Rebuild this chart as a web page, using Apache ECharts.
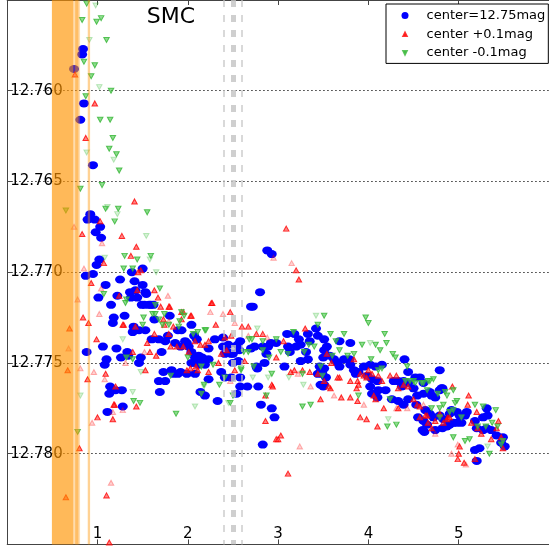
<!DOCTYPE html>
<html>
<head>
<meta charset="utf-8">
<script src="https://cdn.jsdelivr.net/npm/echarts@6/dist/echarts.min.js"></script>
<style>
  html, body { margin: 0; padding: 0; background: #fff; }
  #chart { width: 549px; height: 551px; }
</style>
</head>
<body>
<div id="chart"></div>
<script>
// Tick labels shown on the axes
const xTickLabels = ['1', '2', '3', '4', '5'];
const yTickLabels = ['12.760', '12.765', '12.770', '12.775', '12.780'];

// Series names
const seriesNames = ['center=12.75mag', 'center +0.1mag', 'center -0.1mag'];

// center = 12.75 mag  [x, magnitude]
const blueCenter = [
  [0.84,12.7577],[0.83,12.7580],[0.74,12.7588],[0.85,12.7607],[0.81,12.7616],[0.95,12.7641],
  [0.92,12.7668],[0.89,12.7671],[0.97,12.7671],[1.03,12.7675],[0.98,12.7678],[1.04,12.7681],
  [1.02,12.7693],[0.99,12.7696],[0.87,12.7702],[0.95,12.7701],[1.50,12.7698],[1.38,12.7700],
  [1.25,12.7704],[1.41,12.7705],[2.88,12.7688],[2.93,12.7690],
  [1.09,12.7707],[1.01,12.7714],[1.22,12.7713],[1.15,12.7718],[1.36,12.7711],[1.42,12.7710],
  [1.37,12.7714],[1.44,12.7714],[1.50,12.7707],[1.54,12.7712],[1.52,12.7718],[1.59,12.7718],
  [1.30,12.7724],[1.18,12.7725],[1.17,12.7728],[1.80,12.7724],[1.63,12.7726],[2.04,12.7729],
  [1.40,12.7730],[1.39,12.7733],[1.46,12.7732],[1.53,12.7732],[1.60,12.7737],[1.68,12.7737],
  [1.75,12.7738],[1.78,12.7735],[1.89,12.7732],[1.93,12.7732],[1.97,12.7738],[2.10,12.7737],
  [1.21,12.7742],[1.06,12.7741],[0.88,12.7744],[1.71,12.7744],[1.33,12.7744],[1.26,12.7747],
  [1.48,12.7747],[1.10,12.7748],[1.08,12.7751],[1.86,12.7739],[1.92,12.7741],[1.99,12.7739],
  [2.04,12.7744],[2.08,12.7747],[2.16,12.7747],[2.16,12.7750],[2.23,12.7742],[2.30,12.7737],
  [2.39,12.7736],[2.44,12.7744],[2.50,12.7745],[2.55,12.7740],[2.58,12.7738],[1.73,12.7755],
  [1.82,12.7754],[1.89,12.7756],[1.68,12.7760],[1.75,12.7760],[1.69,12.7766],[1.14,12.7763],
  [1.13,12.7767],[1.20,12.7765],[1.27,12.7765],[1.28,12.7774],[1.11,12.7777],[2.14,12.7766],
  [2.19,12.7768],[2.33,12.7771],[2.54,12.7767],[2.58,12.7763],[2.66,12.7763],[2.78,12.7763],
  [2.77,12.7753],[2.81,12.7773],[2.93,12.7775],[2.96,12.7780],[2.83,12.7795],[2.80,12.7711],
  [2.70,12.7719],[2.72,12.7719],[2.92,12.7739],[2.70,12.7742],[2.74,12.7741],[2.83,12.7741],
  [2.87,12.7745],[2.76,12.7752],[2.85,12.7750],
  [3.10,12.7734],[3.18,12.7734],[3.23,12.7737],[3.33,12.7734],[3.35,12.7738],[3.42,12.7731],
  [3.44,12.7735],[3.51,12.7737],[3.25,12.7740],[3.20,12.7741],[3.11,12.7741],[3.13,12.7744],
  [3.31,12.7744],[3.33,12.7748],[3.25,12.7749],[3.51,12.7743],[3.50,12.7747],[3.46,12.7752],
  [3.49,12.7756],[3.51,12.7762],[3.07,12.7752],[2.48,12.7745],[2.45,12.7740],[2.39,12.7741],
  [2.41,12.7745],[2.57,12.7743],[2.50,12.7750],[2.56,12.7749],[2.37,12.7755],[2.41,12.7758],
  [2.48,12.7758],[2.58,12.7758],[2.23,12.7748],[2.19,12.7751],[2.12,12.7746],[2.08,12.7750],
  [2.04,12.7750],[2.23,12.7759],[3.51,12.7753],[2.89,12.7741],[2.98,12.7739],
  [3.54,12.7741],[3.68,12.7738],[3.80,12.7739],[3.57,12.7746],[3.62,12.7748],[3.66,12.7750],
  [3.68,12.7752],[3.73,12.7748],[3.79,12.7748],[3.80,12.7751],[3.84,12.7754],[3.86,12.7756],
  [3.89,12.7755],[3.95,12.7752],[4.02,12.7751],[4.08,12.7752],[4.15,12.7751],[3.99,12.7757],
  [4.04,12.7759],[4.10,12.7760],[4.02,12.7763],[4.11,12.7765],[4.19,12.7765],[4.28,12.7760],
  [4.33,12.7760],[4.39,12.7760],[4.44,12.7761],[4.37,12.7763],[4.50,12.7764],[4.40,12.7748],
  [4.04,12.7767],[4.10,12.7769],[4.26,12.7770],[4.33,12.7771],[4.44,12.7770],[4.39,12.7773],
  [4.54,12.7768],[4.61,12.7767],[4.68,12.7766],[4.70,12.7768],[4.81,12.7764],[4.79,12.7754],
  [4.55,12.7780],[4.61,12.7782],[4.65,12.7784],[4.62,12.7788],[4.72,12.7780],[4.83,12.7781],
  [4.90,12.7778],[4.94,12.7783],[3.47,12.7762],[3.50,12.7763],[3.53,12.7758],[3.44,12.7756],
  [4.44,12.7755],[4.52,12.7758],[4.57,12.7758],[4.61,12.7761],[4.74,12.7769],[4.79,12.7765],
  [4.82,12.7764],[4.53,12.7773],[4.63,12.7776],[4.68,12.7778],[4.79,12.7779],[4.60,12.7787],
  [4.74,12.7787],[4.82,12.7786],[4.87,12.7785],[4.90,12.7784],[4.98,12.7783],[5.03,12.7783],
  [4.92,12.7776],[4.98,12.7777],[5.01,12.7779],[5.07,12.7779],[5.09,12.7777],[5.27,12.7780],
  [5.32,12.7779],[5.31,12.7775],[5.18,12.7782],[5.20,12.7786],[5.27,12.7787],[5.31,12.7786],
  [5.36,12.7787],[5.42,12.7790],[5.49,12.7791],[5.47,12.7794],[5.51,12.7796],[5.18,12.7798],
  [5.23,12.7797],[5.20,12.7804],
  [1.34,12.7746],[1.46,12.7750],[1.84,12.7756],[1.92,12.7755],[1.99,12.7756],[2.08,12.7756],
  [2.12,12.7751],[1.53,12.7711],[1.57,12.7718],[1.62,12.7718],[1.49,12.7718],[2.01,12.7741],
  [2.07,12.7735]
];

// center + 0.1 mag, full-weight points
const redPlus = [
  [0.75,12.7591],[0.97,12.7607],[0.87,12.7626],[1.41,12.7661],[0.83,12.7679],[1.03,12.7672],
  [1.27,12.7680],[1.43,12.7686],[1.37,12.7691],[1.07,12.7695],[1.48,12.7699],[1.45,12.7700],
  [3.09,12.7676],[3.20,12.7699],[3.23,12.7704],
  [0.93,12.7706],[0.84,12.7725],[0.90,12.7728],[0.69,12.7731],[0.67,12.7754],[0.89,12.7759],
  [0.99,12.7737],[1.09,12.7756],[1.20,12.7763],[1.19,12.7773],[1.43,12.7774],[1.00,12.7780],
  [0.80,12.7797],[1.10,12.7823],[0.65,12.7824],[1.13,12.7849],[1.24,12.7713],[1.29,12.7729],
  [1.44,12.7710],[1.67,12.7714],[1.39,12.7744],[1.58,12.7744],[1.80,12.7719],[1.93,12.7722],
  [2.03,12.7724],[2.26,12.7717],[2.47,12.7722],[2.60,12.7730],[2.67,12.7730],[2.31,12.7729],
  [2.76,12.7734],[2.83,12.7734],[2.93,12.7762],[2.86,12.7782],[2.98,12.7792],[2.23,12.7755],
  [2.11,12.7754],
  [2.27,12.7717],[2.04,12.7724],[3.06,12.7738],[3.30,12.7731],[2.98,12.7747],[3.14,12.7755],
  [3.18,12.7754],[3.27,12.7754],[3.35,12.7755],[3.44,12.7756],[2.94,12.7763],[2.86,12.7768],
  [3.47,12.7770],[2.52,12.7754],[2.63,12.7749],[2.19,12.7740],[2.23,12.7738],[2.14,12.7740],
  [2.08,12.7738],[2.37,12.7745],[2.43,12.7743],[2.34,12.7750],[2.48,12.7735],[2.41,12.7736],
  [3.84,12.7748],[3.91,12.7756],[3.95,12.7757],[3.98,12.7758],[4.00,12.7754],[4.04,12.7756],
  [4.11,12.7757],[4.15,12.7760],[3.88,12.7760],[3.89,12.7762],[3.87,12.7764],[4.24,12.7757],
  [4.31,12.7757],[4.39,12.7762],[4.44,12.7763],[4.33,12.7764],[4.50,12.7770],[4.54,12.7773],
  [3.70,12.7769],[3.80,12.7769],[3.88,12.7771],[4.06,12.7768],[4.08,12.7770],[4.17,12.7775],
  [4.33,12.7775],[3.91,12.7780],[3.98,12.7781],[4.10,12.7785],[4.57,12.7774],[4.65,12.7779],
  [4.74,12.7782],[4.83,12.7783],[4.88,12.7780],[4.93,12.7763],[3.51,12.7760],[3.58,12.7764],
  [3.54,12.7745],[3.59,12.7750],[3.68,12.7758],[3.80,12.7760],
  [5.11,12.7768],[5.10,12.7773],[5.20,12.7777],[5.44,12.7782],[4.57,12.7780],[4.63,12.7779],
  [4.66,12.7783],[4.79,12.7778],[4.87,12.7781],[4.90,12.7780],[5.14,12.7783],[5.21,12.7786],
  [5.25,12.7789],[5.36,12.7792],[5.42,12.7786],[5.49,12.7797],[5.47,12.7791],[5.01,12.7796],
  [5.00,12.7800],[4.99,12.7803],[5.06,12.7805],[5.18,12.7803],[4.70,12.7786],
  [1.18,12.7773],[1.17,12.7781],[1.53,12.7754],[1.28,12.7729],[1.42,12.7730],[1.55,12.7739],
  [1.65,12.7746],[1.81,12.7741],[1.88,12.7741],[1.95,12.7741],[2.01,12.7744],[1.63,12.7734],
  [1.79,12.7734],[1.84,12.7730],[1.74,12.7729],[1.99,12.7754],[2.03,12.7753],[2.09,12.7752],
  [1.63,12.7710],[1.73,12.7726],[1.79,12.7719],[1.70,12.7719],[1.93,12.7726],[1.95,12.7722],
  [3.11,12.7811],[3.03,12.7790],[3.00,12.7792],[3.56,12.7763],[3.66,12.7758]
];

// center + 0.1 mag, low-weight points
const redPlusWeak = [
  [0.74,12.7675],[1.05,12.7684],[0.85,12.7698],[2.95,12.7692],[3.15,12.7695],[0.78,12.7715],
  [0.68,12.7742],[0.81,12.7753],[0.96,12.7755],[1.02,12.7723],[1.08,12.7759],[1.04,12.7709],
  [1.17,12.7777],[1.28,12.7776],[0.94,12.7783],[1.15,12.7816],[1.31,12.7750],[1.52,12.7744],
  [1.78,12.7713],[1.79,12.7727],[2.25,12.7722],[2.39,12.7723],[2.67,12.7735],[2.88,12.7736],
  [3.62,12.7768],[3.95,12.7773],[4.43,12.7775],[4.92,12.7800],[3.24,12.7796],[4.31,12.7775],
  [4.61,12.7773],[4.74,12.7789],[4.99,12.7795],[5.08,12.7806],[3.36,12.7763],[3.22,12.7756],
  [2.47,12.7760],[2.52,12.7728]
];

// center - 0.1 mag, full-weight points
const greenMinus = [
  [0.88,12.7552],[0.83,12.7561],[0.99,12.7562],[1.04,12.7560],[1.10,12.7572],[0.85,12.7584],
  [0.97,12.7586],[0.93,12.7592],[1.15,12.7600],[0.87,12.7603],[1.03,12.7616],[1.14,12.7616],
  [1.17,12.7626],[1.13,12.7632],[1.21,12.7635],[1.24,12.7644],[1.05,12.7652],[0.81,12.7654],
  [1.09,12.7665],[1.23,12.7665],[1.55,12.7667],[0.65,12.7666],[1.19,12.7672],[1.30,12.7691],
  [1.59,12.7691],[1.44,12.7693],[1.29,12.7698],[1.39,12.7698],
  [1.07,12.7712],[1.32,12.7715],[1.31,12.7717],[1.69,12.7709],[1.64,12.7718],[1.61,12.7723],
  [1.51,12.7725],[1.50,12.7729],[1.72,12.7729],[1.91,12.7727],[2.06,12.7734],[2.11,12.7733],
  [2.19,12.7732],[1.39,12.7748],[1.32,12.7747],[1.40,12.7771],[1.47,12.7772],[1.87,12.7778],
  [1.81,12.7757],[2.50,12.7768],[2.35,12.7762],[2.41,12.7758],[2.59,12.7754],[2.87,12.7768],
  [2.93,12.7756],[0.78,12.7788],
  [2.20,12.7732],[2.68,12.7737],[2.71,12.7737],[2.83,12.7738],[2.98,12.7737],[3.17,12.7733],
  [3.34,12.7740],[3.40,12.7741],[3.29,12.7744],[3.03,12.7744],[3.11,12.7745],[2.90,12.7747],
  [2.67,12.7744],[2.62,12.7744],[3.27,12.7756],[3.27,12.7774],[3.36,12.7773],[2.47,12.7772],
  [2.18,12.7762],[2.15,12.7767],[2.28,12.7751],[2.15,12.7752],[2.59,12.7753],[2.73,12.7752],
  [2.83,12.7743],[3.51,12.7724],
  [3.44,12.7729],[3.97,12.7725],[4.00,12.7728],[3.58,12.7734],[3.64,12.7738],[3.73,12.7734],
  [3.93,12.7740],[4.08,12.7740],[4.13,12.7743],[4.20,12.7739],[4.18,12.7734],[4.27,12.7745],
  [4.30,12.7747],[3.68,12.7743],[3.60,12.7746],[3.77,12.7746],[3.84,12.7745],[4.03,12.7748],
  [4.15,12.7753],[4.11,12.7754],[4.43,12.7752],[4.50,12.7760],[4.41,12.7760],[4.61,12.7761],
  [4.68,12.7760],[3.47,12.7752],[3.49,12.7757],[3.89,12.7768],[4.24,12.7770],[4.21,12.7785],
  [4.31,12.7784],[4.70,12.7775],[4.79,12.7775],[4.83,12.7773],[4.79,12.7780],[4.90,12.7777],
  [4.96,12.7772],[4.94,12.7765],
  [4.46,12.7760],[4.52,12.7761],[4.59,12.7761],[4.66,12.7760],[4.72,12.7759],[4.77,12.7767],
  [4.85,12.7766],[4.87,12.7768],[4.98,12.7771],[5.18,12.7773],[5.27,12.7774],[5.41,12.7776],
  [4.94,12.7776],[5.03,12.7780],[5.21,12.7785],[5.30,12.7785],[5.37,12.7783],[5.43,12.7785],
  [4.94,12.7791],[5.07,12.7793],[5.12,12.7792],[5.34,12.7800],[5.47,12.7795],[5.49,12.7793],
  [4.65,12.7765],[2.00,12.7747],[1.79,12.7729],[1.90,12.7730],[1.64,12.7723],[1.68,12.7726],
  [1.74,12.7723],[1.93,12.7722],[1.96,12.7724]
];

// center - 0.1 mag, low-weight points
const greenMinusWeak = [
  [0.98,12.7553],[0.91,12.7572],[1.02,12.7598],[0.88,12.7634],[1.18,12.7638],[1.11,12.7664],
  [1.22,12.7668],[1.54,12.7680],[1.08,12.7692],[1.58,12.7693],[1.65,12.7700],[0.81,12.7768],
  [2.08,12.7774],[2.18,12.7763],[2.45,12.7772],[2.72,12.7758],[2.77,12.7731],[3.42,12.7724],
  [3.12,12.7758],[3.28,12.7762],[2.89,12.7758],[4.02,12.7739],[4.22,12.7781],[1.28,12.7737],
  [1.48,12.7755],[1.39,12.7766],[5.32,12.7796]
];

const FONT = 'DejaVu Sans';
const ellipse = 'path://M-1,0A1,1,0,1,0,1,0A1,1,0,1,0,-1,0Z';
// small triangles padded inside a larger box (zero-length corner segments) so legend icons stay small
const legendUp = 'path://M0,0L0.001,0M14,14L13.999,14M3.6,10.8L7,4L10.4,10.8Z';
const legendDown = 'path://M0,0L0.001,0M14,14L13.999,14M3.6,3.2L10.4,3.2L7,10Z';

const redStyle = { color: 'rgba(255,40,40,0.72)', borderColor: '#ff0000', borderWidth: 1 };
const greenStyle = { color: 'rgba(80,200,80,0.8)', borderColor: '#33b533', borderWidth: 1 };

const chart = echarts.init(document.getElementById('chart'), null, { renderer: 'canvas' });

const plotGrid = { left: 7.2, top: -2, width: 546.6, height: 546.4 };

chart.setOption({
  animation: false,
  backgroundColor: '#ffffff',
  title: {
    text: 'SMC',
    left: 171,
    textAlign: 'center',
    top: 6,
    padding: 0,
    textStyle: { fontFamily: FONT, fontSize: 22, fontWeight: 'normal', color: '#000' }
  },
  legend: {
    orient: 'vertical',
    left: 386,
    top: 4,
    padding: [4.5, 3, 3.5, 14.5],
    itemWidth: 7,
    itemHeight: 7,
    itemGap: 4.7,
    borderColor: '#000',
    borderWidth: 1,
    backgroundColor: '#fff',
    selectedMode: false,
    textStyle: { fontFamily: FONT, fontSize: 13, color: '#000', lineHeight: 14, padding: [0, 0, 0, 13] },
    data: [
      { name: seriesNames[0], icon: 'circle' },
      { name: seriesNames[1], icon: legendUp },
      { name: seriesNames[2], icon: legendDown }
    ]
  },
  grid: plotGrid,
  xAxis: [
    {
      type: 'value', min: 0, max: 6, interval: 1, position: 'bottom',
      axisLine: { show: true, lineStyle: { color: '#444', width: 1 } },
      axisTick: { show: true, inside: true, length: 5, lineStyle: { color: '#444' } },
      axisLabel: {
        show: true, inside: true, margin: 3,
        fontFamily: FONT, fontSize: 15, color: '#000',
        showMinLabel: false, showMaxLabel: false,
        formatter: v => (xTickLabels.includes(String(Math.round(v))) ? String(Math.round(v)) : '')
      },
      splitLine: { show: false }
    },
    {
      type: 'value', min: 0, max: 6, interval: 1, position: 'top',
      axisLine: { show: true, lineStyle: { color: '#444', width: 1 } },
      axisTick: { show: true, inside: true, length: 5, lineStyle: { color: '#444' } },
      axisLabel: { show: false },
      splitLine: { show: false }
    }
  ],
  yAxis: {
    type: 'value', min: 12.755, max: 12.785, interval: 0.005, inverse: true,
    axisLine: { show: true, lineStyle: { color: '#444', width: 1 } },
    axisTick: { show: true, inside: true, length: 5, lineStyle: { color: '#444' } },
    axisLabel: {
      show: true, inside: true, margin: 3,
      fontFamily: FONT, fontSize: 15, color: '#000',
      showMinLabel: false, showMaxLabel: false,
      formatter: v => { const s = v.toFixed(3); return yTickLabels.includes(s) ? s : ''; }
    },
    splitLine: { show: true, showMinLine: false, showMaxLine: false,
      lineStyle: { color: '#333', width: 1, type: [1.5, 2.5] } }
  },
  series: [
    {
      name: seriesNames[0], type: 'scatter', data: blueCenter, z: 2,
      symbol: ellipse, symbolSize: [10, 8],
      itemStyle: { color: '#0000ff', opacity: 1 }
    },
    {
      name: seriesNames[1], type: 'scatter', data: redPlus, z: 3,
      symbol: 'triangle', symbolSize: [5.5, 5],
      itemStyle: redStyle
    },
    {
      name: seriesNames[1], type: 'scatter', data: redPlusWeak, z: 3,
      symbol: 'triangle', symbolSize: [5.5, 5],
      itemStyle: Object.assign({}, redStyle, { opacity: 0.3 })
    },
    {
      name: seriesNames[2], type: 'scatter', data: greenMinus, z: 4,
      symbol: 'triangle', symbolRotate: 180, symbolSize: [5.5, 5],
      itemStyle: greenStyle
    },
    {
      name: seriesNames[2], type: 'scatter', data: greenMinusWeak, z: 4,
      symbol: 'triangle', symbolRotate: 180, symbolSize: [5.5, 5],
      itemStyle: Object.assign({}, greenStyle, { opacity: 0.3 })
    },
    {
      // shaded exclusion bands and reference lines, drawn over the points
      name: 'overlay', type: 'scatter', data: [], z: 10, silent: true,
      markArea: {
        silent: true, z: 10,
        data: [
          [{ xAxis: 0.495, itemStyle: { color: 'rgb(255,147,0)', opacity: 0.65 } }, { xAxis: 0.733 }],
          [{ xAxis: 0.733, itemStyle: { color: 'rgb(255,147,0)', opacity: 0.32 } }, { xAxis: 0.752 }],
          [{ xAxis: 0.752, itemStyle: { color: 'rgb(255,147,0)', opacity: 0.6 } }, { xAxis: 0.791 }],
          [{ xAxis: 0.791, itemStyle: { color: 'rgb(255,147,0)', opacity: 0.3 } }, { xAxis: 0.807 }],
          [{ xAxis: 0.892, itemStyle: { color: 'rgb(255,147,0)', opacity: 0.42 } }, { xAxis: 0.918 }]
        ]
      },
      markLine: {
        silent: true, z: 10, symbol: 'none', label: { show: false },
        data: [
          { xAxis: 2.4, lineStyle: { color: 'rgba(195,195,195,0.85)', width: 1.5, type: [7, 8] } },
          { xAxis: 2.5, lineStyle: { color: 'rgba(195,195,195,0.8)', width: 5, type: [7, 8] } },
          { xAxis: 2.6, lineStyle: { color: 'rgba(195,195,195,0.85)', width: 1.5, type: [7, 8] } }
        ]
      }
    }
  ]
});
</script>
</body>
</html>
